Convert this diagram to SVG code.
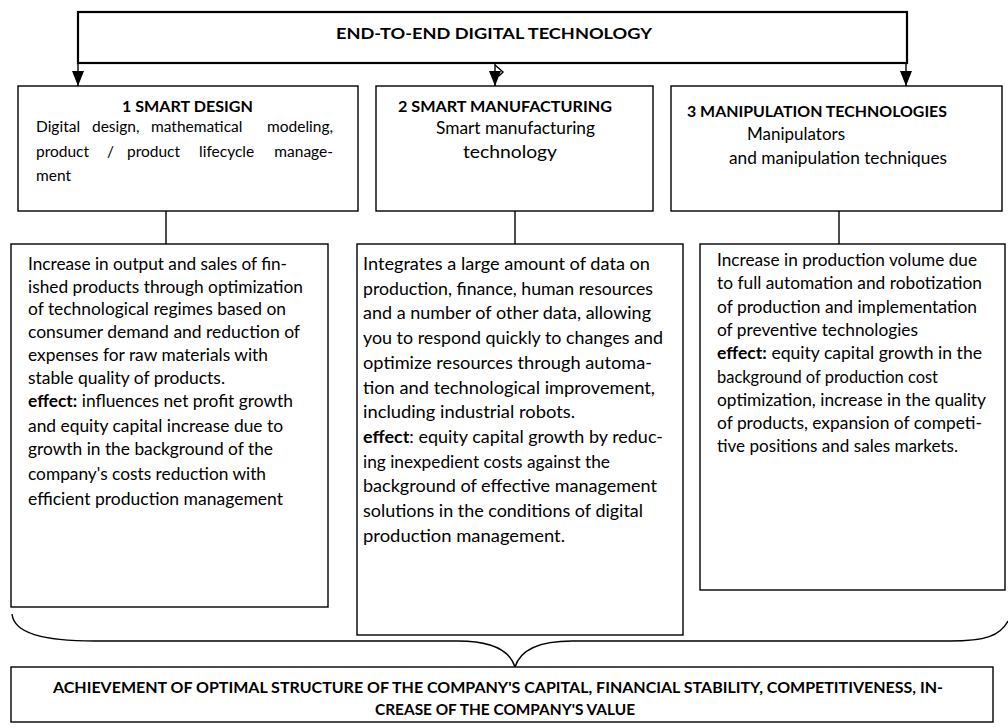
<svg xmlns="http://www.w3.org/2000/svg" width="1008" height="727" viewBox="0 0 1008 727">
  <style>
    .box { fill: #fff; stroke: #000; stroke-width: 1.4; }
    .top { fill: #fff; stroke: #000; stroke-width: 2.2; }
    .ln { fill: none; stroke: #000; stroke-width: 1.4; }
    text { font-family: Lato, "Liberation Sans", sans-serif; font-size: 17px; fill: #000; }
    .b { font-weight: 700; }
    .h { font-size: 15.5px; font-weight: 700; }
    .s { font-size: 15.5px; }
  </style>
  <defs>
    <marker id="arrow" viewBox="0 0 15 12" refX="15" refY="6" markerWidth="15" markerHeight="12" markerUnits="userSpaceOnUse" orient="auto">
      <path d="M0,0 L15,6 L0,12 z" fill="#000"/>
    </marker>
  </defs>
  <rect width="1008" height="727" fill="#fff"/>

  <g id="connectors">
    <line class="ln" x1="78" y1="63" x2="78" y2="86" marker-end="url(#arrow)"/>
    <line class="ln" x1="495" y1="63" x2="495" y2="86" marker-end="url(#arrow)"/>
    <polyline class="ln" stroke-width="1" points="495,65 503,72 499,76"/>
    <line class="ln" x1="906" y1="63" x2="906" y2="86" marker-end="url(#arrow)"/>
    <line class="ln" x1="166" y1="211" x2="166" y2="244"/>
    <line class="ln" x1="515" y1="211" x2="515" y2="244"/>
    <line class="ln" x1="839" y1="211" x2="839" y2="244"/>
    <!-- brace gathering the three effects -->
    <path class="ln" stroke-width="1.6" d="M12,614 C14,633 42,641 95,641 L458,641 C492,641 510,651 515,667 C520,651 538,641 572,641 L950,641 C985,641 1000,636 1008,621"/>
  </g>

  <g id="end-to-end">
    <rect class="top" x="78" y="12" width="829" height="51"/>
    <text class="h" x="336" y="39" textLength="316" lengthAdjust="spacingAndGlyphs">END-TO-END DIGITAL TECHNOLOGY</text>
  </g>

  <g id="smart-design">
    <rect class="box" x="18" y="86" width="340" height="125"/>
    <text class="h" x="122" y="112" textLength="131" lengthAdjust="spacingAndGlyphs">1 SMART DESIGN</text>
    <!-- justified lines: one tspan per word -->
    <text class="s" y="132"><tspan x="36">Digital</tspan><tspan x="92">design,</tspan><tspan x="151">mathematical</tspan></text>
    <text class="s" x="333" y="132" text-anchor="end">modeling,</text>
    <text class="s" y="157"><tspan x="36">product</tspan><tspan x="107">/</tspan><tspan x="127">product</tspan><tspan x="199">lifecycle</tspan></text>
    <text class="s" x="333" y="157" text-anchor="end">manage-</text>
    <text class="s" x="36" y="181">ment</text>
  </g>

  <g id="smart-manufacturing">
    <rect class="box" x="376" y="86" width="277" height="125"/>
    <text class="h" x="398" y="112" textLength="214" lengthAdjust="spacingAndGlyphs">2 SMART MANUFACTURING</text>
    <text x="436" y="134" textLength="159" lengthAdjust="spacingAndGlyphs">Smart manufacturing</text>
    <text x="463" y="158" textLength="94" lengthAdjust="spacingAndGlyphs">technology</text>
  </g>

  <g id="manipulation">
    <rect class="box" x="671" y="86" width="331" height="125"/>
    <text class="h" x="687" y="117" textLength="260" lengthAdjust="spacingAndGlyphs">3 MANIPULATION TECHNOLOGIES</text>
    <text x="747" y="140" textLength="98" lengthAdjust="spacingAndGlyphs">Manipulators</text>
    <text x="729" y="164" textLength="218" lengthAdjust="spacingAndGlyphs">and manipulation techniques</text>
  </g>

  <g id="design-effect">
    <rect class="box" x="11" y="244" width="317" height="363"/>
    <text x="28" y="270" textLength="259" lengthAdjust="spacingAndGlyphs">Increase in output and sales of fin-</text>
    <text x="28" y="293" textLength="275" lengthAdjust="spacingAndGlyphs">ished products through optimization</text>
    <text x="28" y="315" textLength="258" lengthAdjust="spacingAndGlyphs">of technological regimes based on</text>
    <text x="28" y="338" textLength="272" lengthAdjust="spacingAndGlyphs">consumer demand and reduction of</text>
    <text x="28" y="361" textLength="240" lengthAdjust="spacingAndGlyphs">expenses for raw materials with</text>
    <text x="28" y="384" textLength="197" lengthAdjust="spacingAndGlyphs">stable quality of products.</text>
    <text x="28" y="407" textLength="265" lengthAdjust="spacingAndGlyphs"><tspan class="b">effect:</tspan> influences net profit growth</text>
    <text x="28" y="432" textLength="255" lengthAdjust="spacingAndGlyphs">and equity capital increase due to</text>
    <text x="28" y="455" textLength="245" lengthAdjust="spacingAndGlyphs">growth in the background of the</text>
    <text x="28" y="480" textLength="238" lengthAdjust="spacingAndGlyphs">company's costs reduction with</text>
    <text x="28" y="505" textLength="255" lengthAdjust="spacingAndGlyphs">efficient production management</text>
  </g>

  <g id="manufacturing-effect">
    <rect class="box" x="357" y="244" width="326" height="391"/>
    <text x="363" y="270" textLength="287" lengthAdjust="spacingAndGlyphs">Integrates a large amount of data on</text>
    <text x="363" y="294.7" textLength="290" lengthAdjust="spacingAndGlyphs">production, finance, human resources</text>
    <text x="363" y="319.4" textLength="288" lengthAdjust="spacingAndGlyphs">and a number of other data, allowing</text>
    <text x="363" y="344.1" textLength="300" lengthAdjust="spacingAndGlyphs">you to respond quickly to changes and</text>
    <text x="363" y="368.8" textLength="289" lengthAdjust="spacingAndGlyphs">optimize resources through automa-</text>
    <text x="363" y="393.5" textLength="292" lengthAdjust="spacingAndGlyphs">tion and technological improvement,</text>
    <text x="363" y="418.2" textLength="212" lengthAdjust="spacingAndGlyphs">including industrial robots.</text>
    <text x="363" y="442.9" textLength="300" lengthAdjust="spacingAndGlyphs"><tspan class="b">effect</tspan>: equity capital growth by reduc-</text>
    <text x="363" y="467.6" textLength="247" lengthAdjust="spacingAndGlyphs">ing inexpedient costs against the</text>
    <text x="363" y="492.3" textLength="294" lengthAdjust="spacingAndGlyphs">background of effective management</text>
    <text x="363" y="517" textLength="280" lengthAdjust="spacingAndGlyphs">solutions in the conditions of digital</text>
    <text x="363" y="541.7" textLength="202" lengthAdjust="spacingAndGlyphs">production management.</text>
  </g>

  <g id="manipulation-effect">
    <rect class="box" x="700" y="244" width="305" height="346"/>
    <text x="717" y="266" textLength="260" lengthAdjust="spacingAndGlyphs">Increase in production volume due</text>
    <text x="717" y="289.3" textLength="265" lengthAdjust="spacingAndGlyphs">to full automation and robotization</text>
    <text x="717" y="312.6" textLength="260" lengthAdjust="spacingAndGlyphs">of production and implementation</text>
    <text x="717" y="335.9" textLength="201" lengthAdjust="spacingAndGlyphs">of preventive technologies</text>
    <text x="717" y="359.2" textLength="265" lengthAdjust="spacingAndGlyphs"><tspan class="b">effect:</tspan>  equity capital growth in the</text>
    <text x="717" y="382.5" textLength="221" lengthAdjust="spacingAndGlyphs">background of production cost</text>
    <text x="717" y="405.8" textLength="269" lengthAdjust="spacingAndGlyphs">optimization, increase in the quality</text>
    <text x="717" y="429.1" textLength="265" lengthAdjust="spacingAndGlyphs">of products, expansion of competi-</text>
    <text x="717" y="452.4" textLength="241" lengthAdjust="spacingAndGlyphs">tive positions and sales markets.</text>
  </g>

  <g id="result">
    <rect class="box" x="11" y="667" width="982" height="55"/>
    <text class="h" x="53" y="693" textLength="890" lengthAdjust="spacingAndGlyphs">ACHIEVEMENT OF OPTIMAL STRUCTURE OF THE COMPANY'S CAPITAL, FINANCIAL STABILITY, COMPETITIVENESS, IN-</text>
    <text class="h" x="375" y="715" textLength="260" lengthAdjust="spacingAndGlyphs">CREASE OF THE COMPANY'S VALUE</text>
  </g>
</svg>
